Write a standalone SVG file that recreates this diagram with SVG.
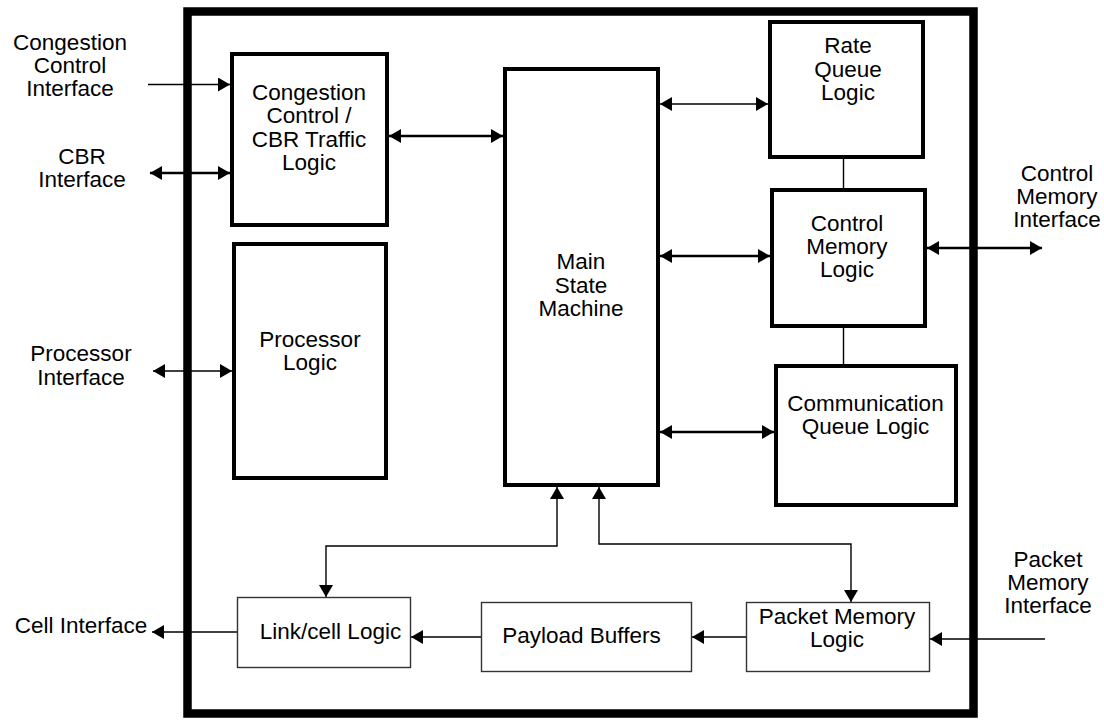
<svg xmlns="http://www.w3.org/2000/svg" width="1104" height="720" viewBox="0 0 1104 720">
  <style>
    text { font-family: "Liberation Sans", Arial, Helvetica, sans-serif; font-size: 22.5px; fill: #000; text-anchor: middle; }
    .frame { fill: none; stroke: #000; stroke-width: 8.5; }
    .blk { fill: #fff; stroke: #000; stroke-width: 4; }
    .thin { fill: #fff; stroke: #333; stroke-width: 1.4; }
    .w1 { fill: none; stroke: #000; stroke-width: 1.4; }
    .w2 { fill: none; stroke: #000; stroke-width: 2.6; }
    .one { marker-end: url(#head); }
    .two { marker-start: url(#head); marker-end: url(#head); }
  </style>
  <defs>
    <marker id="head" markerUnits="userSpaceOnUse" markerWidth="13" markerHeight="14" refX="12" refY="7" orient="auto-start-reverse">
      <path d="M0,0 L12,7 L0,14 Z" fill="#000"/>
    </marker>
  </defs>

  <rect width="1104" height="720" fill="#fff"/>

  <!-- chip boundary -->
  <rect id="chip" class="frame" x="187.5" y="11.5" width="786" height="702"/>

  <!-- external interface labels -->
  <g id="labels">
    <text x="70" y="50">Congestion</text>
    <text x="70" y="73">Control</text>
    <text x="70" y="96">Interface</text>
    <text x="82" y="164">CBR</text>
    <text x="82" y="187">Interface</text>
    <text x="81" y="361">Processor</text>
    <text x="81" y="385">Interface</text>
    <text x="81" y="633">Cell Interface</text>
    <text x="1057" y="181">Control</text>
    <text x="1057" y="204">Memory</text>
    <text x="1057" y="227">Interface</text>
    <text x="1048" y="567">Packet</text>
    <text x="1048" y="590">Memory</text>
    <text x="1048" y="613">Interface</text>
  </g>

  <!-- connectors -->
  <g id="connectors">
    <path class="w1 one" d="M148,84.5 H230"/>
    <path class="w2 two" d="M150,173 H230"/>
    <path class="w1 two" d="M153,371 H232"/>
    <path class="w2 two" d="M389,136 H503"/>
    <path class="w1 two" d="M660,104 H768"/>
    <path class="w2 two" d="M660,256 H770"/>
    <path class="w2 two" d="M660,432 H774"/>
    <path class="w2 two" d="M927,248 H1042"/>
    <path class="w1" d="M843.5,159 V188"/>
    <path class="w1" d="M843.5,328 V364"/>
    <path class="w1 two" d="M557,487 V546 H326 V597"/>
    <path class="w1 two" d="M599,487 V544 H851 V602"/>
    <path class="w1 one" d="M237,632 H152"/>
    <path class="w1 one" d="M481,637 H411"/>
    <path class="w1 one" d="M746,637 H692"/>
    <path class="w1 one" d="M1045,639 H930"/>
  </g>

  <g id="congestion">
    <rect class="blk" x="232" y="54" width="155" height="171"/>
    <text x="309" y="100">Congestion</text>
    <text x="309" y="123">Control /</text>
    <text x="309" y="147">CBR Traffic</text>
    <text x="309" y="170">Logic</text>
  </g>

  <g id="processor">
    <rect class="blk" x="234" y="244" width="152" height="234"/>
    <text x="310" y="347">Processor</text>
    <text x="310" y="370">Logic</text>
  </g>

  <g id="main">
    <rect class="blk" x="505" y="69" width="153" height="416"/>
    <text x="581" y="269">Main</text>
    <text x="581" y="293">State</text>
    <text x="581" y="316">Machine</text>
  </g>

  <g id="rateQueue">
    <rect class="blk" x="770" y="22" width="153" height="135"/>
    <text x="848" y="53">Rate</text>
    <text x="848" y="77">Queue</text>
    <text x="848" y="100">Logic</text>
  </g>

  <g id="controlMemory">
    <rect class="blk" x="772" y="190" width="153" height="136"/>
    <text x="847" y="231">Control</text>
    <text x="847" y="254">Memory</text>
    <text x="847" y="277">Logic</text>
  </g>

  <g id="commQueue">
    <rect class="blk" x="776" y="366" width="180" height="139"/>
    <text x="865.5" y="411">Communication</text>
    <text x="865.5" y="434">Queue Logic</text>
  </g>

  <g id="linkCell">
    <rect class="thin" x="237.5" y="597.5" width="173" height="70"/>
    <text x="330.5" y="639">Link/cell Logic</text>
  </g>

  <g id="payload">
    <rect class="thin" x="481.5" y="602.5" width="210" height="69"/>
    <text x="581.5" y="643">Payload Buffers</text>
  </g>

  <g id="packetMemory">
    <rect class="thin" x="746.5" y="602.5" width="183" height="69"/>
    <text x="837" y="624">Packet Memory</text>
    <text x="837" y="647">Logic</text>
  </g>
</svg>
